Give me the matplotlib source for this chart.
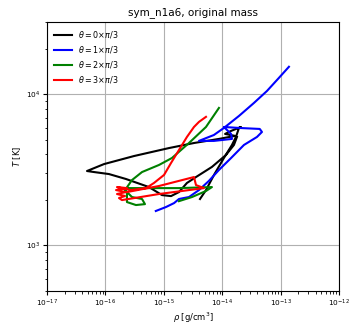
import numpy as np
import matplotlib
matplotlib.use('Agg')
import matplotlib.pyplot as plt

# density [g/cm^3] and temperature [K] along each trajectory
rho_0 = [4.17e-15, 5.28e-15, 7.24e-15, 1.07e-14, 1.47e-14, 1.72e-14, 1.94e-14, 2.10e-14,
         1.42e-14, 1.12e-14, 1.66e-14, 8.8e-15, 3.29e-15, 1.23e-15, 3.09e-16, 9.46e-17,
         4.84e-17, 6.38e-17, 1.15e-16, 2.25e-16, 5.58e-16, 9.31e-16, 1.33e-15, 1.82e-15,
         2.49e-15, 3.56e-15, 6.68e-15, 1.16e-14, 1.59e-14, 1.79e-14]
T_0 = [2028, 2323, 2925, 3785, 4616, 5213, 5980, 6070,
       5715, 5460, 5300, 5060, 4755, 4404, 3900, 3450,
       3105, 3057, 2965, 2750, 2432, 2153, 2120, 2254,
       2588, 2833, 3305, 3963, 4616, 5213]

rho_1 = [7.3e-16, 1.09e-15, 1.50e-15, 1.82e-15, 2.70e-15, 4.0e-15, 5.9e-15, 8.8e-15,
         1.42e-14, 2.36e-14, 3.94e-14, 4.8e-14, 4.4e-14, 1.94e-14, 1.07e-14, 1.42e-14,
         1.47e-14, 7.2e-15, 4.0e-15, 7.2e-15, 1.07e-14, 1.94e-14, 3.5e-14, 5.85e-14,
         9.4e-14, 1.39e-13]
T_1 = [1690, 1795, 1906, 2028, 2090, 2323, 2667, 3155,
       3785, 4616, 5213, 5625, 5890, 5980, 6070, 5460,
       5060, 4910, 4910, 5370, 5980, 7180, 8750, 10500,
       12830, 15170]

rho_2 = [1.82e-15, 3.04e-15, 5.28e-15, 6.68e-15, 1.82e-15, 5.58e-16, 2.08e-16, 2.34e-16,
         2.34e-16, 3.34e-16, 4.76e-16, 4.24e-16, 2.85e-16, 2.17e-16, 2.85e-16, 4.24e-16,
         8.28e-16, 1.38e-15, 2.70e-15, 5.28e-15, 8.8e-15]
T_2 = [1963, 2090, 2291, 2432, 2394, 2394, 2394, 2220,
       1936, 1850, 1876, 2028, 2090, 2323, 2705, 3057,
       3405, 3785, 4755, 6070, 8110]

rho_3 = [5.28e-15, 4.01e-15, 3.29e-15, 2.49e-15, 1.82e-15, 1.33e-15, 1.01e-15, 6.79e-16,
         4.96e-16, 2.74e-16, 1.58e-16, 2.34e-16, 1.52e-16, 2.25e-16, 1.58e-16, 2.17e-16,
         1.71e-16, 1.92e-16, 8.28e-16, 4.87e-15, 3.56e-15, 3.29e-15, 8.28e-16, 2.34e-16]
T_3 = [7080, 6560, 6070, 5213, 4276, 3508, 2925, 2588,
       2394, 2323, 2432, 2394, 2323, 2254, 2188, 2123,
       2058, 1995, 2188, 2394, 2507, 2833, 2472, 2254]

labels = [r'$\theta = 0{\times}\pi/3$', r'$\theta = 1{\times}\pi/3$',
          r'$\theta = 2{\times}\pi/3$', r'$\theta = 3{\times}\pi/3$']
colors = ['k', 'b', 'g', 'r']

fig = plt.figure(figsize=(3.52, 3.23), dpi=100)
ax = fig.add_axes([0.1335, 0.099, 0.8295, 0.833])

for rho, T, lab, col in zip([rho_0, rho_1, rho_2, rho_3], [T_0, T_1, T_2, T_3], labels, colors):
    ax.plot(rho, T, color=col, lw=1.5, label=lab)

ax.set_xscale('log')
ax.set_yscale('log')
ax.set_xlim(1e-17, 1e-12)
ax.set_ylim(500, 3e4)
ax.grid(True, which='major', color='#b0b0b0', lw=0.8)
ax.tick_params(which='major', labelsize=5.3, length=3, pad=2)
ax.tick_params(which='minor', length=1.8)
ax.set_xlabel(r'$\rho$ [g/cm$^3$]', fontsize=6, labelpad=1)
ax.set_ylabel(r'$T$ [K]', fontsize=6, labelpad=2)
ax.set_title('sym_n1a6, original mass', fontsize=7.5, pad=5)
ax.legend(loc='upper left', fontsize=5.8, frameon=False, handlelength=2.2)

fig.savefig('out.png', dpi=100)
